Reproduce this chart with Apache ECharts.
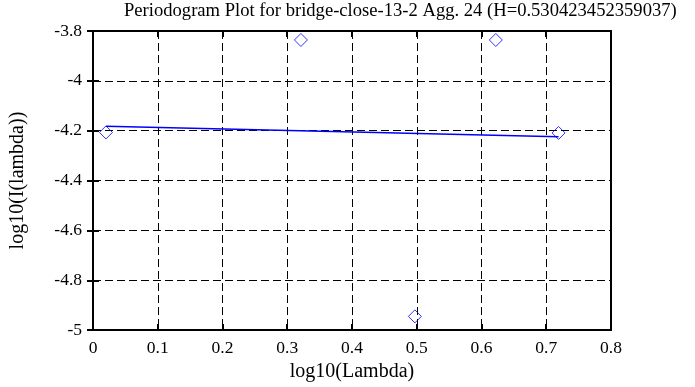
<!DOCTYPE html>
<html>
<head>
<meta charset="utf-8">
<script src="https://cdn.jsdelivr.net/npm/echarts@6/dist/echarts.min.js"></script>
<style>html,body{margin:0;padding:0;background:#fff}#c{width:695px;height:387px}</style>
</head>
<body>
<div id="c"></div>
<script>
var titleText = "Periodogram Plot for bridge-close-13-2 Agg. 24 (H=0.530423452359037)";
var xName = "log10(Lambda)";
var yName = "log10(I(lambda))";
var logLambda = [0.0200, 0.3211, 0.4971, 0.6221, 0.7190];
var logI = [-4.207, -3.836, -4.945, -3.836, -4.209];
var fitX = [0.0200, 0.7190];
var fitY = [-4.1818, -4.2243];

var font = "Liberation Serif";
var pts = logLambda.map(function (x, i) { return [x, logI[i]]; });
var fit = fitX.map(function (x, i) { return [x, fitY[i]]; });

var chart = echarts.init(document.getElementById('c'));
var tickStyle = { show: true, inside: true, length: 6, lineStyle: { color: '#000', width: 2 } };
var splitStyle = { show: true, lineStyle: { color: '#000', width: 1, type: [8, 4] } };
chart.setOption({
  animation: false,
  backgroundColor: '#fff',
  title: {
    text: titleText, left: 119, top: -3,
    textStyle: { fontFamily: font, fontSize: 18.6, fontWeight: 'normal', color: '#000' }
  },
  grid: { left: 84, right: 84, top: 31, bottom: 56, show: true, borderColor: '#000', borderWidth: 2, backgroundColor: 'transparent' },
  xAxis: [{
    type: 'value', min: 0, max: 0.8, interval: 0.1, position: 'bottom',
    name: xName, nameLocation: 'middle', nameGap: 30,
    nameTextStyle: { fontFamily: font, fontSize: 20, color: '#000' },
    axisLine: { show: true, lineStyle: { color: '#000', width: 2 } },
    axisTick: tickStyle,
    axisLabel: { fontFamily: font, fontSize: 17.5, color: '#000', margin: 9,
      formatter: function (v) { return String(Math.round(v * 10) / 10); } },
    splitLine: splitStyle
  }, {
    type: 'value', min: 0, max: 0.8, interval: 0.1, position: 'top',
    axisLine: { show: true, lineStyle: { color: '#000', width: 2 } },
    axisTick: tickStyle, axisLabel: { show: false }, splitLine: { show: false }
  }],
  yAxis: [{
    type: 'value', min: -5, max: -3.8, interval: 0.2, position: 'left',
    name: yName, nameLocation: 'middle', nameGap: 65,
    nameTextStyle: { fontFamily: font, fontSize: 20, color: '#000' },
    axisLine: { show: true, lineStyle: { color: '#000', width: 2 } },
    axisTick: tickStyle,
    axisLabel: { fontFamily: font, fontSize: 17.5, color: '#000', margin: 11,
      formatter: function (v) { return String(Math.round(v * 10) / 10); } },
    splitLine: splitStyle
  }, {
    type: 'value', min: -5, max: -3.8, interval: 0.2, position: 'right',
    axisLine: { show: true, lineStyle: { color: '#000', width: 2 } },
    axisTick: tickStyle, axisLabel: { show: false }, splitLine: { show: false }
  }],
  series: [{
    type: 'line', data: fit, showSymbol: false, symbol: 'none',
    lineStyle: { color: '#0000ff', width: 1.5 }, z: 3
  }, {
    type: 'scatter', data: pts, symbol: 'diamond', symbolSize: [13, 13],
    itemStyle: { color: 'rgba(0,0,0,0)', borderColor: '#0000ff', borderWidth: 1 }, z: 4
  }]
});
</script>
</body>
</html>
